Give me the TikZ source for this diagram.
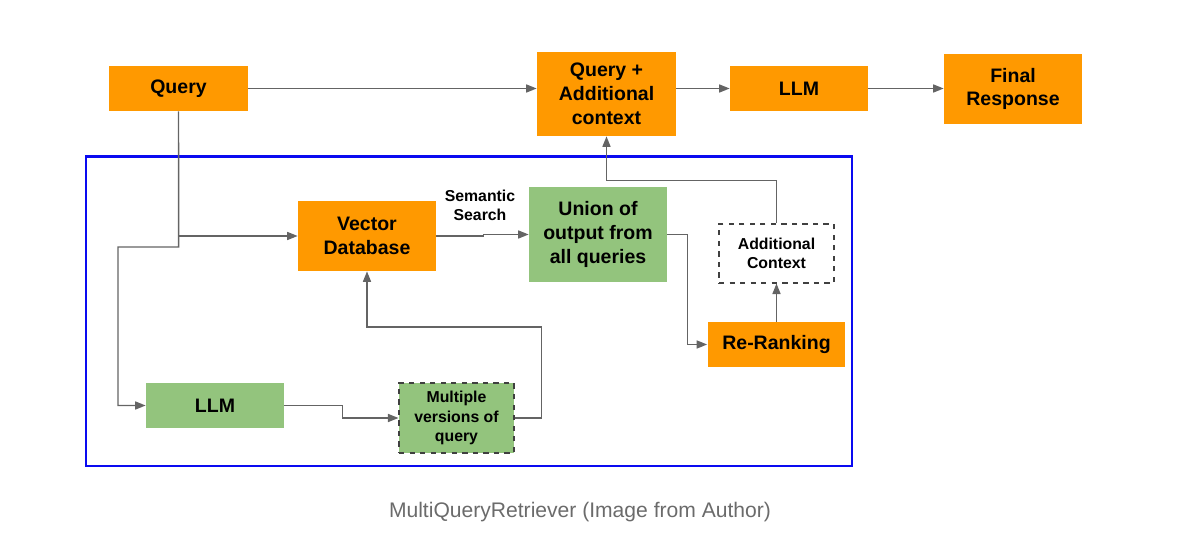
\documentclass[tikz,border=0pt]{standalone}
\usepackage{fontspec}
\setmainfont{Liberation Sans}
\usetikzlibrary{arrows.meta}
\definecolor{qorange}{RGB}{255,153,0}
\definecolor{qgreen}{RGB}{147,196,125}
\definecolor{qline}{RGB}{100,100,100}
\definecolor{qblue}{RGB}{10,10,240}
\definecolor{qcap}{RGB}{107,107,107}
\tikzset{
  orangebox/.style={fill=qorange, inner sep=0pt, align=center, font=\fontsize{11.1}{13.6}\selectfont\bfseries},
  greenbox/.style={fill=qgreen, inner sep=0pt, align=center, font=\fontsize{11.1}{13.6}\selectfont\bfseries},
  smalltext/.style={font=\fontsize{9}{11}\selectfont\bfseries, align=center},
  dashbox/.style={draw=black!75, dashed, line width=0.6pt, inner sep=0pt, align=center},
  arr/.style={draw=qline, line width=0.8pt, -{Triangle[length=6pt,width=4.6pt]}}
}
\begin{document}
\begin{tikzpicture}[x=0.02cm, y=-0.02cm]
      \useasboundingbox (0,0) rectangle (1198,550);
      \node[orangebox, minimum width=2.78cm, minimum height=0.9cm] (query) at (178.5, 88.5) {Query};
      \node[orangebox, minimum width=2.78cm, minimum height=1.68cm] (qa) at (606.5, 94) {Query +\\Additional\\context};
      \node[orangebox, minimum width=2.76cm, minimum height=0.9cm] (llm) at (799, 88.5) {LLM};
      \node[orangebox, minimum width=2.76cm, minimum height=1.4cm] (final) at (1013, 89) {Final\\Response};
      \draw[qblue, line width=1.7pt] (86, 156.5) rectangle (852, 466);
      \node[orangebox, minimum width=2.76cm, minimum height=1.4cm] (vd) at (367, 236) {Vector\\Database};
      \node[greenbox, minimum width=2.76cm, minimum height=1.9cm] (union) at (598, 234.5) {Union of\\output from\\all queries};
      \node[dashbox, smalltext, minimum width=2.3cm, minimum height=1.18cm] (ac) at (776.5, 253.5) {Additional\\Context};
      \node[orangebox, minimum width=2.76cm, minimum height=0.9cm] (rerank) at (776.5, 344.5) {Re-Ranking};
      \node[greenbox, minimum width=2.76cm, minimum height=0.9cm] (llmq) at (215, 405.5) {LLM};
      \node[greenbox, dashbox, smalltext, minimum width=2.3cm, minimum height=1.4cm] (multi) at (456.5, 418) {Multiple\\versions of\\query};
      \node[smalltext] (sem) at (480, 205.5) {Semantic\\Search};
      \coordinate (qturn) at (178.7, 247);
      \coordinate (qleft) at (118, 247);
      \draw[arr] (query.east) -- (query.east -| qa.west);
      \draw[arr] (qa.east |- llm.west) -- (llm.west);
      \draw[arr] (llm.east) -- (final.west |- llm.east);
      \draw[arr] (query.south |- vd.west) -- (vd.west);
      \draw[arr] (query.south) -- (qturn) -- (qleft) |- (llmq.west);
      \draw[arr] (llmq.east) -- ++(58,0) |- (multi.west);
      \draw[arr] (multi.east) -- ++(27,0) -- ++(0,-91) -| (vd.south);
      \draw[arr] (vd.east) -- ++(47,0) |- (union.west);
      \draw[arr] (union.east) -- ++(20,0) |- (rerank.west);
      \draw[arr] (rerank.north) -- (ac.south);
      \draw[arr] (ac.north) -- ++(0,-43) -| (qa.south);
      \node[text=qcap, font=\fontsize{12}{14}\selectfont] (caption) at (580, 512) {MultiQueryRetriever (Image from Author)};
    \end{tikzpicture}
\end{document}
